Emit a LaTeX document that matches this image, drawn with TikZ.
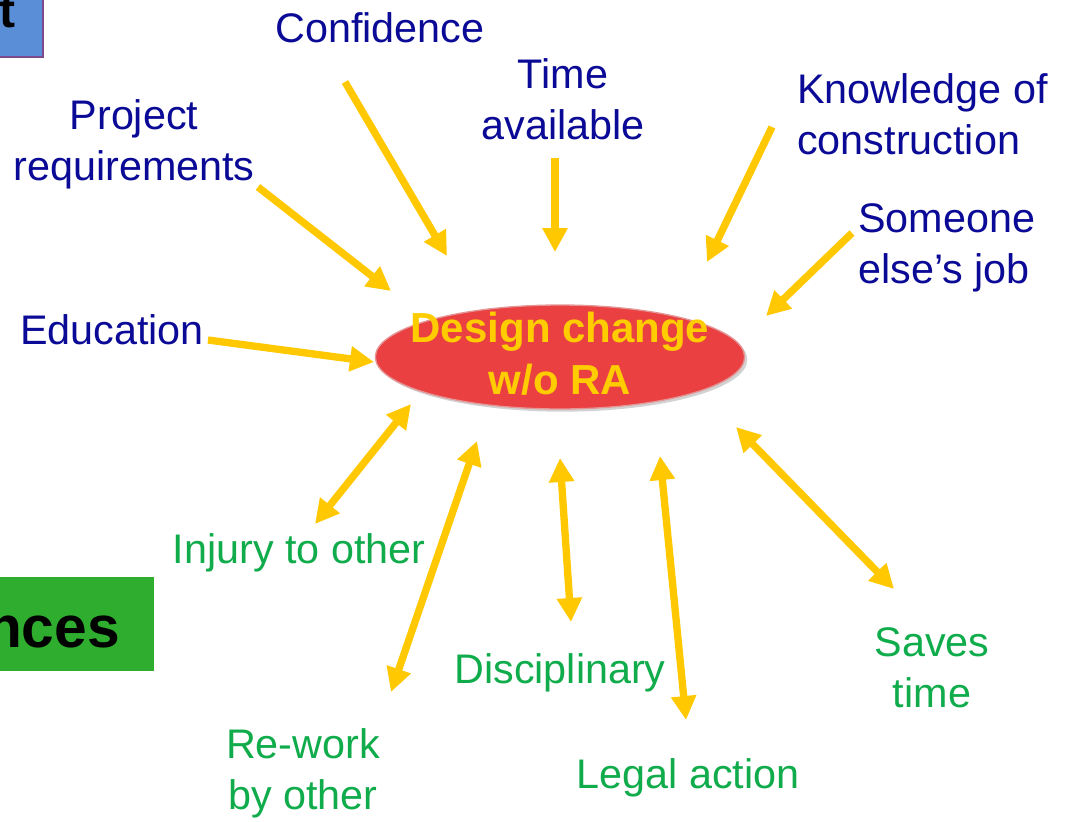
\documentclass[tikz,border=0pt]{standalone}
\usepackage{fontspec}
\setmainfont{Liberation Sans}
\usetikzlibrary{arrows.meta,shapes.geometric,shadows}
\definecolor{navyt}{RGB}{10,10,150}
\definecolor{greent}{RGB}{16,172,76}
\definecolor{arrowy}{RGB}{255,200,0}
\definecolor{ellred}{RGB}{234,64,66}
\definecolor{ellyel}{RGB}{255,204,0}
\definecolor{boxblue}{RGB}{90,143,216}
\definecolor{boxpurple}{RGB}{125,74,142}
\definecolor{boxgreen}{RGB}{46,173,46}
\tikzset{
  cause/.style={text=navyt, font=\fontsize{31}{38.5}\selectfont, inner sep=0pt, align=center},
  effect/.style={text=greent, font=\fontsize{31}{38.5}\selectfont, inner sep=0pt, align=center},
  yarrow/.style={draw=arrowy, line width=5.5pt, -{Triangle[width=18pt,length=18pt]}},
  ydarrow/.style={draw=arrowy, line width=5.5pt, {Triangle[width=18pt,length=18pt]}-{Triangle[width=18pt,length=18pt]}},
}
\begin{document}
\begin{tikzpicture}[x=0.75pt,y=-0.75pt]
\useasboundingbox (0,0) rectangle (1067,821);
\clip (0,0) rectangle (1067,821);
% partial boxes at the left edge
\path[draw=boxpurple, line width=2pt, fill=boxblue] (-120,-40) rectangle (43,57);
\node[font=\bfseries\fontsize{36}{40}\selectfont, anchor=east, inner sep=0pt] (ttext) at (16,12) {t};
\path[fill=boxgreen] (-120,577) rectangle (154,671);
\node[font=\bfseries\fontsize{44}{50}\selectfont, anchor=base east, inner sep=0pt] (gtext) at (120,647) {nces};
% central ellipse
\node[ellipse, fill=ellred, draw={rgb,255:red,228;green,150;blue,150}, line width=1pt,
      minimum width=277pt, minimum height=78pt, inner sep=0pt,
      drop shadow={shadow xshift=2pt, shadow yshift=-2pt, fill=black!35, opacity=0.5}] (ell) at (560,357) {};
\node[text=ellyel, font=\bfseries\fontsize{31.5}{39}\selectfont, align=center, inner sep=0pt] (elltext) at (560,354) {Design change\\w/o RA};
% causes
\node[cause] (conf) at (380,28) {Confidence};
\node[cause] (time) at (563,99) {Time\\available};
\node[cause] (proj) at (134,144) {Project\\requirements};
\node[cause, anchor=west, align=left] (know) at (797,114) {Knowledge of\\construction};
\node[cause, anchor=west, align=left] (some) at (858,248) {Someone\\else’s job};
\node[cause] (edu) at (112,330) {Education};
% effects
\node[effect] (inj) at (299,553) {Injury to other};
\node[effect] (rew) at (303,773) {Re-work\\by other};
\node[effect] (disc) at (560,673) {Disciplinary};
\node[effect] (legal) at (688,778) {Legal action};
\node[effect] (saves) at (932,668) {Saves\\time};
% arrow end points
\coordinate (confA) at (345,82);   \coordinate (confB) at (447,256);
\coordinate (timeA) at (555,158);  \coordinate (timeB) at (555,252);
\coordinate (knowA) at (772,127);  \coordinate (knowB) at (707,262);
\coordinate (someA) at (852,233);  \coordinate (someB) at (766,316);
\coordinate (projA) at (258,187);  \coordinate (projB) at (391,291);
\coordinate (eduA) at (208,340);   \coordinate (eduB) at (374,362);
\coordinate (injA) at (315,524);   \coordinate (injB) at (411,404);
\coordinate (rewA) at (391,692);   \coordinate (rewB) at (477,441);
\coordinate (discA) at (560,458);  \coordinate (discB) at (571,622);
\coordinate (legalA) at (660,456); \coordinate (legalB) at (686,720);
\coordinate (savesA) at (736,427); \coordinate (savesB) at (894,589);
% arrows
\draw[yarrow] (confA) -- (confB);
\draw[yarrow] (timeA) -- (timeB);
\draw[yarrow] (knowA) -- (knowB);
\draw[yarrow] (someA) -- (someB);
\draw[yarrow] (projA) -- (projB);
\draw[yarrow] (eduA) -- (eduB);
\draw[ydarrow] (injA) -- (injB);
\draw[ydarrow] (rewA) -- (rewB);
\draw[ydarrow] (discA) -- (discB);
\draw[ydarrow] (legalA) -- (legalB);
\draw[ydarrow] (savesA) -- (savesB);
\end{tikzpicture}
\end{document}
